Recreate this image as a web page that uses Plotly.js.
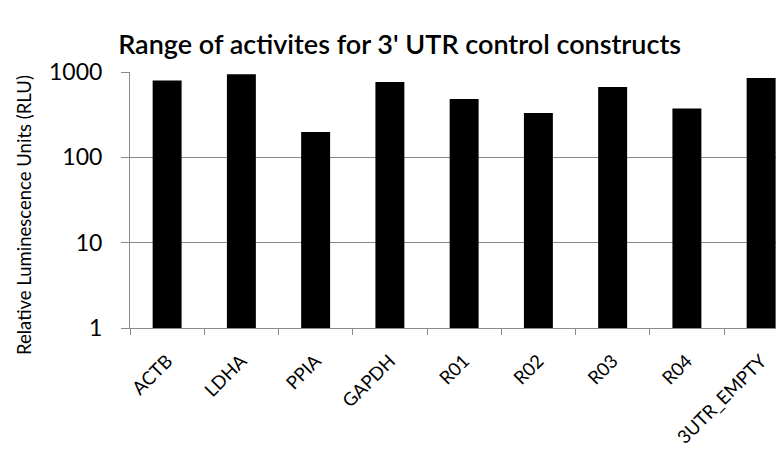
<!DOCTYPE html>
<html>
<head>
<meta charset="utf-8">
<script src="https://cdn.plot.ly/plotly-3.0.1.min.js"></script>
<style>html,body{margin:0;padding:0;background:#fff;}#chart{width:776px;height:449px;}</style>
</head>
<body>
<div id="chart"></div>
<script>
var categories = ["ACTB", "LDHA", "PPIA", "GAPDH", "R01", "R02", "R03", "R04", "3UTR_EMPTY"];
var rluValues = [795, 942, 199, 766, 484, 332, 670, 374, 853];
var yTickValues = [1, 10, 100, 1000];
var yTickLabels = ["1", "10", "100", "1000"];
var yAxisTitle = "Relative Luminescence Units (RLU)";

var FONT = "Lato, 'Open Sans', sans-serif";
var GRID = "#8a8a8a";

var trace = {
  type: "bar",
  x: categories,
  y: rluValues,
  marker: {color: "#000000", line: {width: 0}},
  hoverinfo: "x+y"
};

var layout = {
  width: 776,
  height: 449,
  margin: {l: 130, r: 0, t: 72, b: 121, pad: 0},
  paper_bgcolor: "#ffffff",
  plot_bgcolor: "#ffffff",
  bargap: 0.61,
  showlegend: false,
  font: {family: FONT, color: "#000000"},
  title: {
    text: "Range of activites for 3' UTR control constructs",
    font: {family: FONT, size: 27, color: "#000000", weight: 600},
    x: 0.515, xanchor: "center",
    y: 0.9, yref: "container", yanchor: "middle"
  },
  xaxis: {
    type: "category",
    range: [-0.5, 8.2],
    tickangle: -45,
    tickson: "boundaries",
    ticks: "outside",
    ticklen: 6,
    tickcolor: GRID,
    tickwidth: 1,
    ticklabelstandoff: 14,
    showline: true,
    linecolor: GRID,
    linewidth: 1,
    showgrid: false,
    zeroline: false,
    tickfont: {family: FONT, size: 18.5, color: "#000000"}
  },
  yaxis: {
    type: "log",
    range: [0, 3.001],
    tickmode: "array",
    tickvals: yTickValues,
    ticktext: yTickLabels,
    ticks: "outside",
    ticklen: 8,
    tickcolor: GRID,
    tickwidth: 1,
    ticklabelstandoff: 14,
    showline: true,
    linecolor: GRID,
    linewidth: 1,
    showgrid: true,
    gridcolor: GRID,
    gridwidth: 1,
    zeroline: false,
    tickfont: {family: FONT, size: 23, color: "#000000"}
  },
  annotations: [{
    text: yAxisTitle,
    textangle: -90,
    xref: "paper", yref: "paper",
    x: -0.163, y: 0.44,
    xanchor: "center", yanchor: "middle",
    showarrow: false,
    font: {family: FONT, size: 18.5, color: "#000000"}
  }]
};

Plotly.newPlot("chart", [trace], layout, {displayModeBar: false, staticPlot: true});
</script>
</body>
</html>
